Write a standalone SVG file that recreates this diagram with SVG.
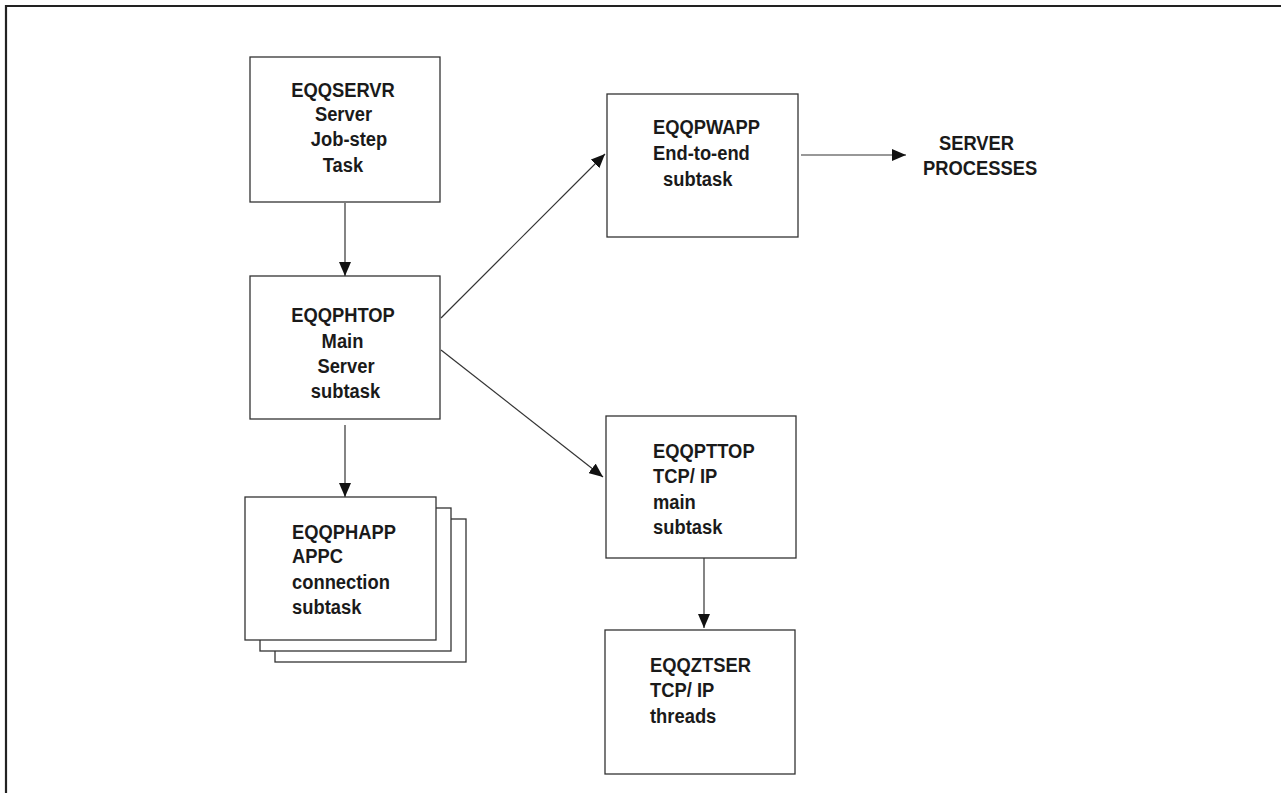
<svg xmlns="http://www.w3.org/2000/svg" width="1281" height="793" viewBox="0 0 1281 793">
<style>
.box{fill:#fff;stroke:#333;stroke-width:1.3}
.t{font-family:"Liberation Sans",Arial,sans-serif;font-weight:bold;font-size:21px;fill:#1a1a1a}
.c{text-anchor:middle}
.ln{stroke:#333;stroke-width:1.2;fill:none;marker-end:url(#ah)}
</style>
<defs>
<marker id="ah" markerUnits="userSpaceOnUse" markerWidth="15" markerHeight="12" refX="14" refY="6" orient="auto">
<path d="M0,0 L14,6 L0,12 z" fill="#111"/>
</marker>
</defs>
<rect width="1281" height="793" fill="#fff"/>
<path d="M6,793 V6 H1281" fill="none" stroke="#222" stroke-width="2.2"/>

<g id="connectors">
<line class="ln" x1="345" y1="203" x2="345" y2="276"/>
<line class="ln" x1="345" y1="425" x2="345" y2="497"/>
<line class="ln" x1="441" y1="318" x2="605" y2="154"/>
<line class="ln" x1="441" y1="350" x2="603" y2="477"/>
<line class="ln" x1="801" y1="155" x2="906" y2="155"/>
<line class="ln" x1="704" y1="558" x2="704" y2="628"/>
</g>

<g id="eqqservr">
<rect class="box" x="250" y="57" width="190" height="145"/>
<text class="t c" transform="matrix(0.874 0 0 1 343 0)" y="97">EQQSERVR</text>
<text class="t c" transform="matrix(0.874 0 0 1 343.5 0)" y="121">Server</text>
<text class="t c" transform="matrix(0.874 0 0 1 349 0)" y="146">Job-step</text>
<text class="t c" transform="matrix(0.874 0 0 1 343 0)" y="172">Task</text>
</g>

<g id="eqqphtop">
<rect class="box" x="250" y="276" width="190" height="143"/>
<text class="t c" transform="matrix(0.874 0 0 1 343 0)" y="322">EQQPHTOP</text>
<text class="t c" transform="matrix(0.874 0 0 1 342.5 0)" y="348">Main</text>
<text class="t c" transform="matrix(0.874 0 0 1 346 0)" y="373">Server</text>
<text class="t c" transform="matrix(0.874 0 0 1 345.5 0)" y="398">subtask</text>
</g>

<g id="eqqphapp">
<rect class="box" x="275" y="519" width="191" height="143"/>
<rect class="box" x="260" y="508" width="191" height="143"/>
<rect class="box" x="245" y="497" width="191" height="143"/>
<text class="t" transform="matrix(0.874 0 0 1 292 0)" y="539">EQQPHAPP</text>
<text class="t" transform="matrix(0.874 0 0 1 292 0)" y="563">APPC</text>
<text class="t" transform="matrix(0.874 0 0 1 292 0)" y="589">connection</text>
<text class="t" transform="matrix(0.874 0 0 1 292 0)" y="614">subtask</text>
</g>

<g id="eqqpwapp">
<rect class="box" x="607" y="94" width="191" height="143"/>
<text class="t" transform="matrix(0.874 0 0 1 653 0)" y="134">EQQPWAPP</text>
<text class="t" transform="matrix(0.874 0 0 1 653 0)" y="160">End-to-end</text>
<text class="t" transform="matrix(0.874 0 0 1 663 0)" y="186">subtask</text>
</g>

<g id="server-processes">
<text class="t c" transform="matrix(0.874 0 0 1 976.5 0)" y="150">SERVER</text>
<text class="t c" transform="matrix(0.874 0 0 1 980 0)" y="175">PROCESSES</text>
</g>

<g id="eqqpttop">
<rect class="box" x="606" y="416" width="190" height="142"/>
<text class="t" transform="matrix(0.874 0 0 1 653 0)" y="458">EQQPTTOP</text>
<text class="t" transform="matrix(0.874 0 0 1 653 0)" y="483">TCP/ IP</text>
<text class="t" transform="matrix(0.874 0 0 1 653 0)" y="509">main</text>
<text class="t" transform="matrix(0.874 0 0 1 653 0)" y="534">subtask</text>
</g>

<g id="eqqztser">
<rect class="box" x="605" y="630" width="190" height="144"/>
<text class="t" transform="matrix(0.874 0 0 1 650 0)" y="672">EQQZTSER</text>
<text class="t" transform="matrix(0.874 0 0 1 650 0)" y="697">TCP/ IP</text>
<text class="t" transform="matrix(0.874 0 0 1 650 0)" y="723">threads</text>
</g>
</svg>
